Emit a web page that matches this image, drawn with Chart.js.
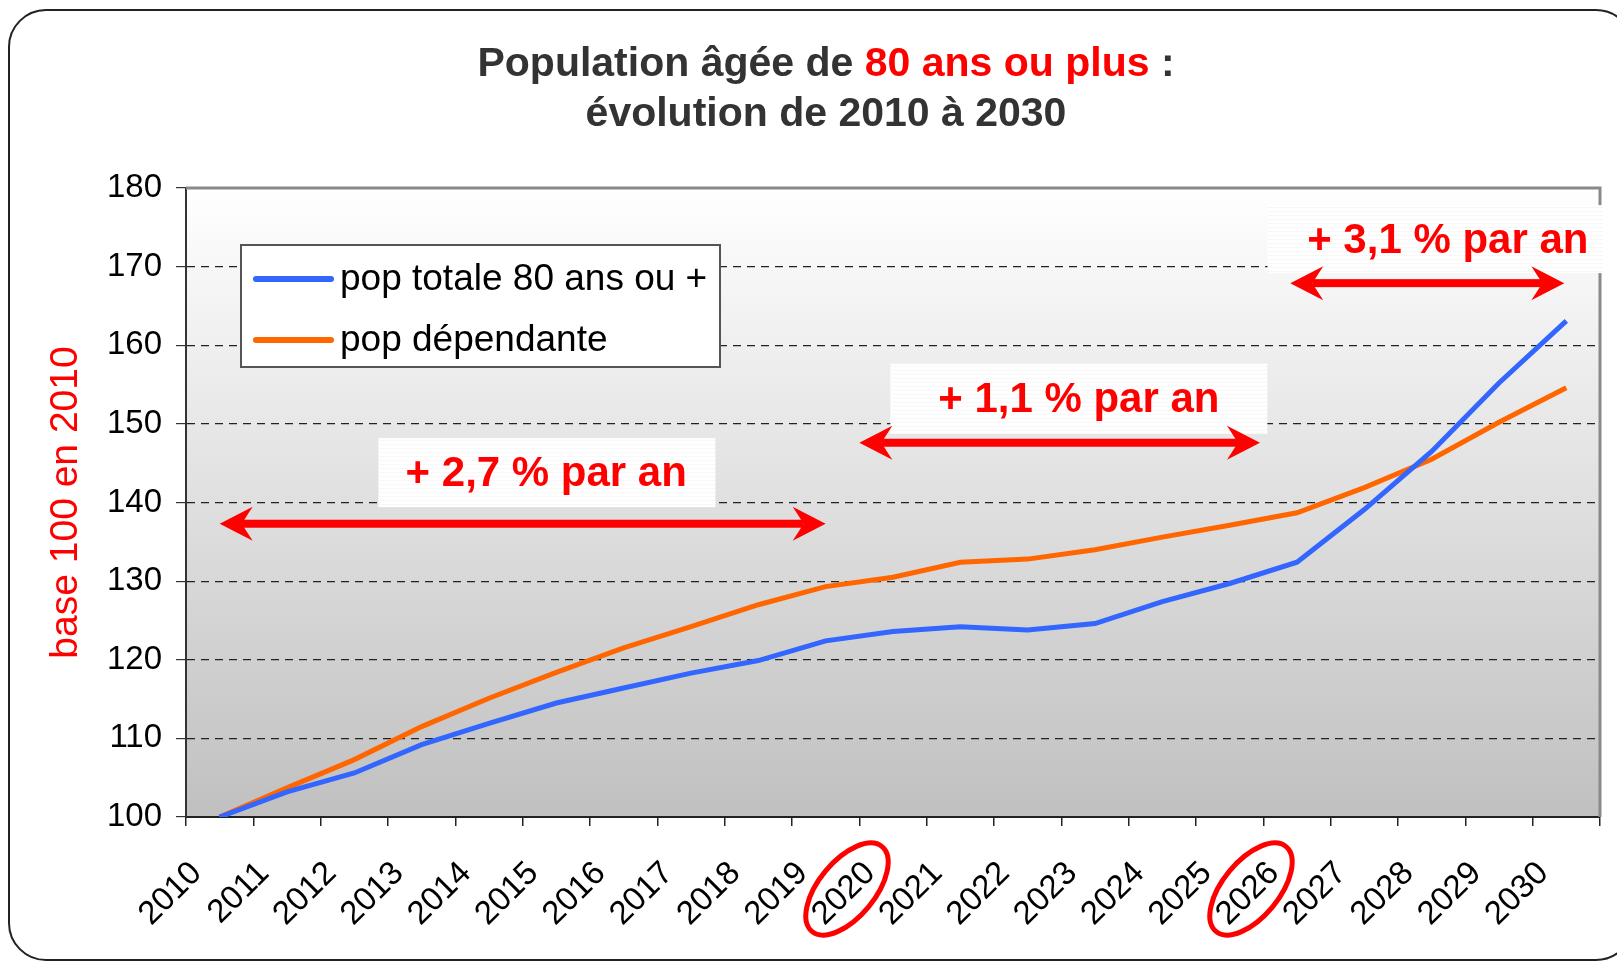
<!DOCTYPE html>
<html>
<head>
<meta charset="utf-8">
<script src="https://cdn.jsdelivr.net/npm/chart.js@4/dist/chart.umd.min.js"></script>
<style>
  body { margin: 0; background: #fff; }
  canvas { display: block; }
</style>
</head>
<body>
<canvas id="myChart" width="1617" height="961"></canvas>
<script>
const years = ['2010', '2011', '2012', '2013', '2014', '2015', '2016', '2017', '2018', '2019', '2020',
  '2021', '2022', '2023', '2024', '2025', '2026', '2027', '2028', '2029', '2030'];
const popTotale = [100, 103.2, 105.6, 109.2, 111.9, 114.5, 116.4, 118.3, 119.9, 122.4, 123.6,
  124.2, 123.8, 124.6, 127.4, 129.7, 132.4, 139.1, 146.5, 155.2, 163.1];
const popDependante = [100, 103.7, 107.3, 111.5, 115.1, 118.4, 121.5, 124.2, 127.0, 129.3, 130.5,
  132.4, 132.8, 134.0, 135.6, 137.1, 138.7, 141.9, 145.5, 150.2, 154.6];
const yTicks = [100, 110, 120, 130, 140, 150, 160, 170, 180];
const seriesNames = ['pop totale 80 ans ou +', 'pop dépendante'];
const circledYears = ['2020', '2026'];

// growth arrows: from / to are category indexes, level is in y units
const rates = [
  {text: '+ 2,7 % par an', from: 0, to: 9, level: 137.3, tx: 4.85, ty: 143.8, bx: 4.86, w: 337, h: 69},
  {text: '+ 1,1 % par an', from: 9.5, to: 15.45, level: 147.6, tx: 12.76, ty: 153.2, bx: 12.76, w: 377, h: 70},
  {text: '+ 3,1 % par an', from: 15.9, to: 19.97, level: 167.9, tx: 18.24, ty: 173.5, bx: 18.05, w: 335, h: 68}
];

const FONT = '"Liberation Sans", Arial, sans-serif';

function drawArrow(ctx, x1, x2, y) {
  const head = 33, half = 17, notch = 22;
  ctx.fillStyle = '#ff0000';
  ctx.fillRect(x1 + notch, y - 4, x2 - x1 - 2 * notch, 8);
  ctx.beginPath();
  ctx.moveTo(x1, y);
  ctx.lineTo(x1 + head, y - half);
  ctx.lineTo(x1 + notch, y);
  ctx.lineTo(x1 + head, y + half);
  ctx.closePath();
  ctx.fill();
  ctx.beginPath();
  ctx.moveTo(x2, y);
  ctx.lineTo(x2 - head, y - half);
  ctx.lineTo(x2 - notch, y);
  ctx.lineTo(x2 - head, y + half);
  ctx.closePath();
  ctx.fill();
}

const decor = {
  id: 'decor',
  beforeDraw(chart) {
    const ctx = chart.ctx, a = chart.chartArea;
    ctx.save();
    ctx.fillStyle = '#fff';
    ctx.fillRect(0, 0, chart.width, chart.height);
    ctx.beginPath();
    ctx.roundRect(9, 10, 1624, 950, 37);
    ctx.lineWidth = 2;
    ctx.strokeStyle = '#222';
    ctx.stroke();
    let g = ctx.createLinearGradient(0, a.top, 0, a.bottom);
    g.addColorStop(0, '#ffffff');
    g.addColorStop(1, '#c0c0c0');
    ctx.fillStyle = g;
    ctx.fillRect(a.left, a.top, a.width, a.height);
    ctx.restore();
  },
  afterDraw(chart) {
    const ctx = chart.ctx, a = chart.chartArea;
    const xs = chart.scales.x, ys = chart.scales.y;
    ctx.save();

    // top and right frame of the plot
    ctx.strokeStyle = '#8a8a8a';
    ctx.lineWidth = 3;
    ctx.beginPath();
    ctx.moveTo(a.left, a.top);
    ctx.lineTo(a.right, a.top);
    ctx.lineTo(a.right, a.bottom);
    ctx.stroke();

    // arrows and their labels
    rates.forEach(r => {
      const bx = xs.getPixelForValue(r.bx), ty = ys.getPixelForValue(r.ty);
      const left = bx - r.w / 2, top = ty - r.h / 2;
      ctx.fillStyle = '#ffffff';
      ctx.fillRect(left, top, r.w, r.h);
      ctx.fillStyle = 'rgba(0,0,0,0.035)';
      for (let yy = top + 2; yy < top + r.h; yy += 4) ctx.fillRect(left, yy, r.w, 1);
      ctx.fillStyle = '#ff0000';
      ctx.font = 'bold 42px ' + FONT;
      ctx.textAlign = 'center';
      ctx.textBaseline = 'middle';
      ctx.fillText(r.text, xs.getPixelForValue(r.tx), ty + 2);
      drawArrow(ctx, xs.getPixelForValue(r.from), xs.getPixelForValue(r.to), ys.getPixelForValue(r.level));
    });

    // legend
    ctx.fillStyle = '#ffffff';
    ctx.fillRect(241, 245, 479, 122);
    ctx.strokeStyle = '#555';
    ctx.lineWidth = 2;
    ctx.strokeRect(241, 245, 479, 122);
    chart.data.datasets.forEach((ds, i) => {
      const y = 279 + i * 61;
      ctx.strokeStyle = ds.borderColor;
      ctx.lineWidth = 6;
      ctx.lineCap = 'round';
      ctx.beginPath();
      ctx.moveTo(256, y);
      ctx.lineTo(331, y);
      ctx.stroke();
      ctx.fillStyle = '#000';
      ctx.font = '37px ' + FONT;
      ctx.textAlign = 'left';
      ctx.textBaseline = 'middle';
      ctx.fillText(ds.label, 340, y + 1);
    });

    // circled years
    ctx.strokeStyle = '#ff0000';
    ctx.lineWidth = 5;
    circledYears.forEach(yr => {
      const cx = xs.getPixelForValue(years.indexOf(yr)) - 46;
      ctx.beginPath();
      ctx.ellipse(cx, 889, 55, 28, -0.88, 0, Math.PI * 2);
      ctx.stroke();
    });

    // title with the red part
    ctx.font = 'bold 41px ' + FONT;
    ctx.textAlign = 'left';
    ctx.textBaseline = 'alphabetic';
    const parts = [['Population âgée de ', '#333333'], ['80 ans ou plus', '#ff0000'], [' :', '#333333']];
    let total = 0;
    parts.forEach(p => total += ctx.measureText(p[0]).width);
    let x = 826 - total / 2;
    parts.forEach(p => {
      ctx.fillStyle = p[1];
      ctx.fillText(p[0], x, 76);
      x += ctx.measureText(p[0]).width;
    });
    ctx.fillStyle = '#333333';
    ctx.textAlign = 'center';
    ctx.fillText('évolution de 2010 à 2030', 826, 126);
    ctx.restore();
  }
};

let ctx = document.getElementById('myChart').getContext('2d');
let myChart = new Chart(ctx, {
  type: 'line',
  data: {
    labels: years,
    datasets: [{
      label: seriesNames[0],
      data: popTotale,
      borderColor: '#3366ff',
      borderWidth: 5,
      pointRadius: 0,
      tension: 0
    }, {
      label: seriesNames[1],
      data: popDependante,
      borderColor: '#ff6600',
      borderWidth: 5,
      pointRadius: 0,
      tension: 0
    }]
  },
  options: {
    responsive: false,
    devicePixelRatio: 1,
    animation: false,
    layout: {
      padding: {top: 188, right: 17, bottom: 0, left: 0}
    },
    plugins: {
      legend: {display: false},
      tooltip: {enabled: false}
    },
    scales: {
      x: {
        type: 'category',
        offset: true,
        afterFit: function (scale) {
          scale.height = 144;
          scale.paddingLeft = 0;
          scale.paddingRight = 0;
        },
        grid: {
          offset: true,
          drawOnChartArea: false,
          tickLength: 9,
          color: '#222',
          lineWidth: 1.5
        },
        border: {display: true, color: '#222', width: 2},
        ticks: {
          autoSkip: false,
          minRotation: 45,
          maxRotation: 45,
          padding: 28,
          labelOffset: -23,
          color: '#000',
          font: {family: FONT, size: 33}
        }
      },
      y: {
        min: 100,
        max: 180,
        afterFit: function (scale) { scale.width = 186; },
        afterBuildTicks: function (scale) {
          scale.ticks = yTicks.map(v => ({value: v}));
        },
        grid: {
          color: '#222',
          lineWidth: 1.2,
          tickLength: 10,
          tickColor: '#333'
        },
        border: {display: true, color: '#333', width: 2, dash: [8, 6]},
        ticks: {
          padding: 14,
          color: '#000',
          font: {family: FONT, size: 33}
        },
        title: {
          display: true,
          text: 'base 100 en 2010',
          color: '#ff0000',
          font: {family: FONT, size: 39},
          padding: {top: 43, bottom: 0}
        }
      }
    }
  },
  plugins: [decor]
});
</script>
</body>
</html>
